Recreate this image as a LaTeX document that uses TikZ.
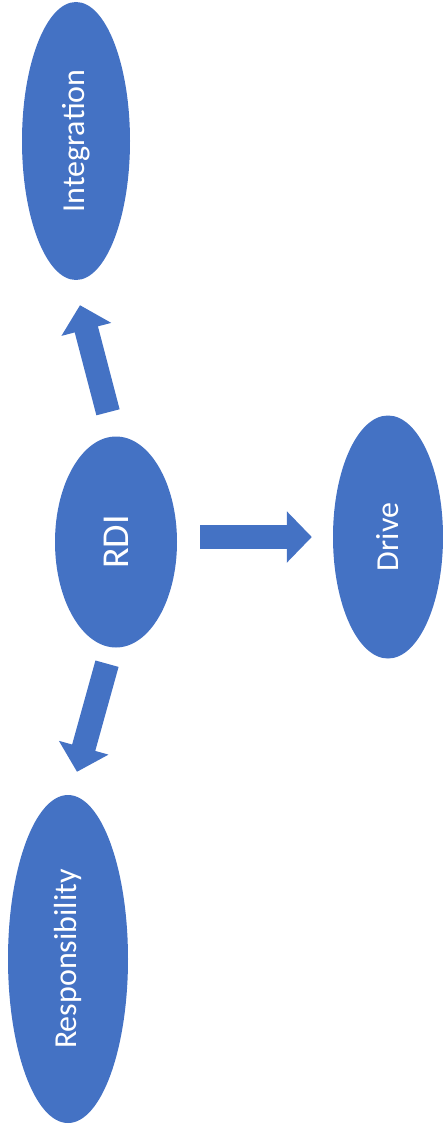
\documentclass[tikz,border=0pt]{standalone}
\usepackage{fontspec}
\setmainfont{Carlito}
\usepackage{graphicx}
\usetikzlibrary{shapes.geometric, arrows.meta, calc, positioning}
\definecolor{officeblue}{RGB}{68,114,196}

\begin{document}
\begin{tikzpicture}[
    x=1pt, y=-1pt,
    concept/.style={ellipse, fill=officeblue, text=white, inner sep=0pt,
        font=\fontsize{32}{38}\selectfont},
    flow/.style={draw=officeblue, line width=24pt,
        -{Triangle[length=25pt, width=50pt]}}
]
\useasboundingbox (0,0) rectangle (443,1131);

\node (Integration) [concept, minimum width=108pt, minimum height=278pt]
    at (76,141) {\rotatebox{90}{Integration}};
\node (RDI) [concept, minimum width=122pt, minimum height=211pt,
    font=\fontsize{38}{44}\selectfont] at (116,542) {\rotatebox{90}{RDI}};
\node (Drive) [concept, minimum width=110pt, minimum height=243pt]
    at (388,537) {\rotatebox{90}{Drive}};
\node (Responsibility) [concept, minimum width=120pt, minimum height=328pt]
    at (68,959) {\rotatebox{90}{Responsibility}};

\draw[flow] ($(RDI.north)+(-8,-24)$) -- ($(Integration.south)+(4,25)$);
\draw[flow] ($(RDI.east |- Drive.west)+(23,0)$) -- ($(Drive.west)+(-21,0)$);
\draw[flow] ($(RDI.south)+(-9,16)$) -- ($(Responsibility.north)+(9,-23)$);

\end{tikzpicture}
\end{document}
